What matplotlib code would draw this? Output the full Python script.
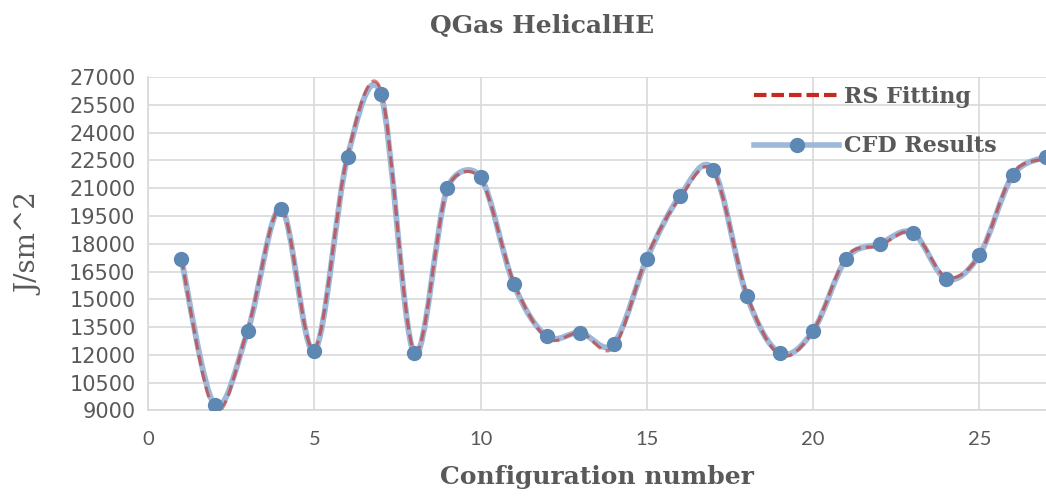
import matplotlib
matplotlib.use("Agg")
import matplotlib.pyplot as plt
from matplotlib.path import Path
from matplotlib.patches import PathPatch
from matplotlib.lines import Line2D
import numpy as np

# data
config = [1, 2, 3, 4, 5, 6, 7, 8, 9, 10, 11, 12, 13, 14, 15, 16, 17, 18, 19, 20,
          21, 22, 23, 24, 25, 26, 27]
cfd = [17200, 9300, 13300, 19900, 12200, 22700, 26100, 12100, 21000, 21600,
       15800, 13000, 13200, 12600, 17200, 20600, 22000, 15200, 12100, 13300,
       17200, 18000, 18600, 16100, 17400, 21700, 22700]
rs_fit = [17200, 9000, 13400, 19900, 12300, 22800, 26300, 12200, 21000, 21500,
          15900, 12900, 13200, 12400, 17300, 20500, 21900, 15300, 12000, 13300,
          17300, 17900, 18600, 16200, 17400, 21800, 22600]
yticks = np.arange(9000, 27001, 1500)
xticks = [0, 5, 10, 15, 20, 25]

GREY = "#595959"
GRID = "#D9D9D9"
BLUE_LINE = "#9DB8D9"
BLUE_MARK = "#5D88B4"
RED = "#C8281E"
SERIF = "DejaVu Serif"


def smooth_path(xs, ys, sx=33.26, sy=0.01852):
    # Excel-style smoothed line: bezier control points at 1/6 of the
    # neighbour span, capped at half the segment length (screen space)
    p = np.column_stack([xs, ys]).astype(float)
    scale = np.array([sx, sy])
    n = len(p)

    def dist(a, b):
        return np.hypot(*((b - a) * scale))

    verts = [p[0]]
    codes = [Path.MOVETO]
    for i in range(n - 1):
        p0 = p[i - 1] if i > 0 else p[i]
        p3 = p[i + 2] if i + 2 < n else p[i + 1]
        d12 = dist(p[i], p[i + 1])
        d02 = dist(p0, p[i + 1])
        d13 = dist(p[i], p3)
        f1 = 1 / 6 if d02 / 6 < d12 / 2 else d12 / 2 / d02
        f2 = 1 / 6 if d13 / 6 < d12 / 2 else d12 / 2 / d13
        c1 = p[i] + (p[i + 1] - p0) * f1
        c2 = p[i + 1] - (p3 - p[i]) * f2
        verts += [c1, c2, p[i + 1]]
        codes += [Path.CURVE4] * 3
    return Path(verts, codes)


fig = plt.figure(figsize=(10.46, 4.98), dpi=100)
ax = fig.add_axes([0.1415, 0.176, 0.8585, 0.669])

ax.add_patch(PathPatch(smooth_path(config, cfd), fill=False, ec=BLUE_LINE,
                       lw=4.2, zorder=2, capstyle="round"))
ax.add_patch(PathPatch(smooth_path(config, rs_fit), fill=False, ec=RED,
                       lw=2.3, alpha=0.6, zorder=3, linestyle=(0, (3.5, 1.6))))
ax.plot(config, cfd, ls="none", marker="o", ms=10, color=BLUE_MARK, zorder=4)

ax.set_xlim(0, 27)
ax.set_ylim(9000, 27000)
ax.set_xticks(xticks)
ax.set_yticks(yticks)
ax.grid(True, color=GRID, lw=1.2, zorder=0)
ax.set_axisbelow(True)
for s in ("top", "right"):
    ax.spines[s].set_visible(False)
for s in ("left", "bottom"):
    ax.spines[s].set_color(GRID)
    ax.spines[s].set_linewidth(1.2)
ax.tick_params(length=0, colors=GREY)
ax.tick_params(axis="y", labelsize=15, pad=9)
ax.tick_params(axis="x", labelsize=14.5, pad=15)
for lab in ax.get_yticklabels():
    lab.set_fontfamily("DejaVu Sans")
for lab in ax.get_xticklabels():
    lab.set_fontfamily("Lato")

ax.set_xlabel("Configuration number", fontsize=18, fontfamily=SERIF,
              fontweight="bold", color=GREY)
ax.xaxis.set_label_coords(0.5, -0.165)
ax.set_ylabel("J/sm^2", fontsize=20, fontfamily=SERIF, color=GREY)
ax.yaxis.set_label_coords(-0.131, 0.5)
ax.yaxis.label.set_verticalalignment("center")
fig.text(0.518, 0.948, "QGas HelicalHE", ha="center", va="center",
         fontsize=18, fontfamily=SERIF, fontweight="bold", color=GREY)

handles = [
    Line2D([], [], color=RED, lw=3, linestyle=(0, (3, 1.2))),
    Line2D([], [], color=BLUE_LINE, lw=4, marker="o", ms=10,
           markerfacecolor=BLUE_MARK, markeredgecolor=BLUE_MARK),
]
leg = ax.legend(handles, ["RS Fitting", "CFD Results"], loc="upper left",
                bbox_to_anchor=(0.653, 1.035), frameon=False, handlelength=3.8,
                handletextpad=0.25, labelspacing=1.25,
                prop={"family": SERIF, "weight": "bold", "size": 16})
for t in leg.get_texts():
    t.set_color(GREY)

fig.savefig("out.png", dpi=100)
